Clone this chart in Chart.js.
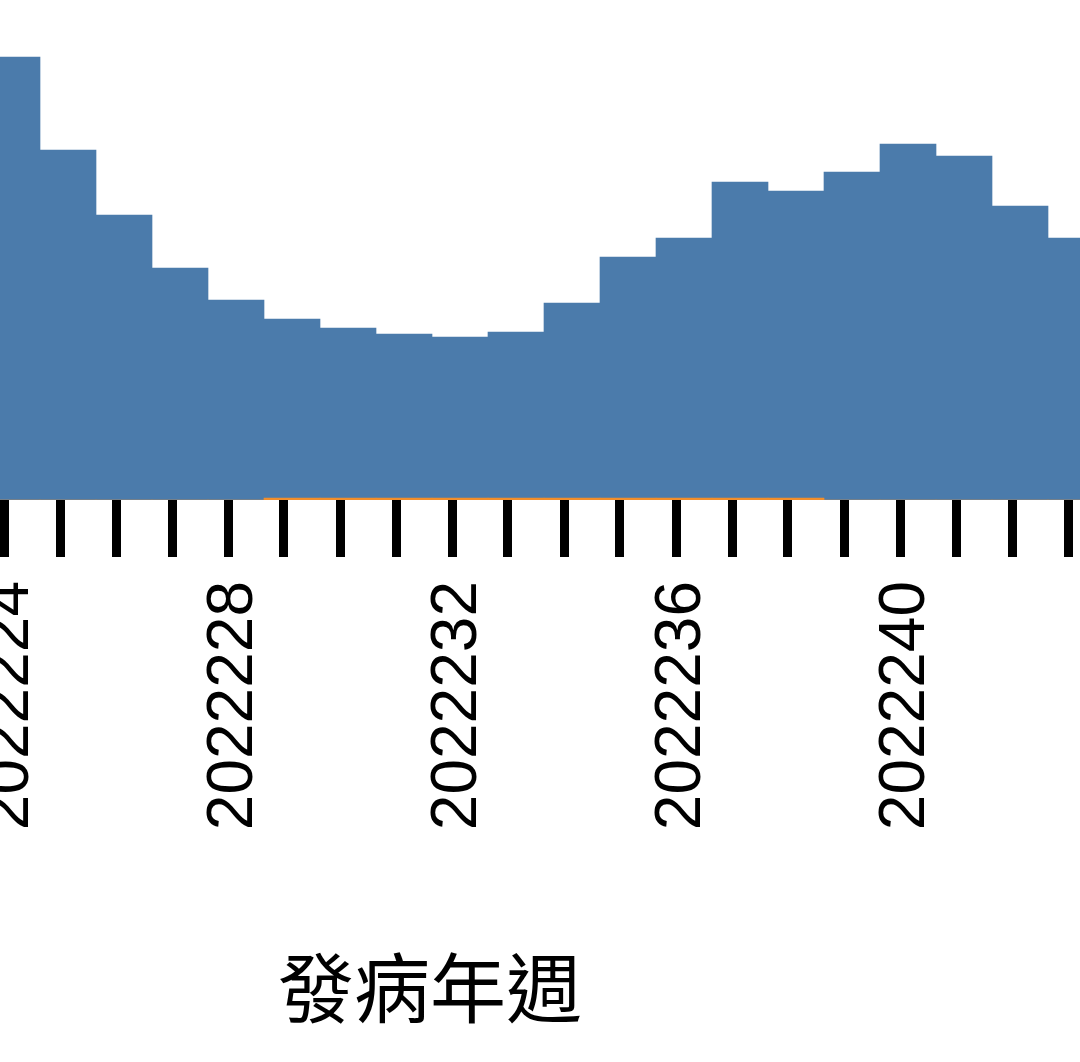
<!DOCTYPE html>
<html>
<head>
<meta charset="utf-8">
<script src="https://cdn.jsdelivr.net/npm/chart.js@4"></script>
<style>
  html, body { margin: 0; padding: 0; background: #fff; overflow: hidden; width: 1080px; height: 1062px; }
  #chart { position: absolute; left: -220px; top: 0; }
</style>
</head>
<body>
<canvas id="chart" width="1300" height="1062"></canvas>
<script>
// onset weeks shown in the crop
const weeks = ['2022224', '2022225', '2022226', '2022227', '2022228', '2022229', '2022230',
  '2022231', '2022232', '2022233', '2022234', '2022235', '2022236', '2022237',
  '2022238', '2022239', '2022240', '2022241', '2022242', '2022243'];
// blue series (case counts)
const cases = [443, 350, 285, 232, 200, 181, 172, 166, 163, 168,
  197, 243, 262, 318, 309, 328, 356, 344, 294, 262];
// orange series (very small, only visible as a thin strip)
const others = [0, 0, 0, 0, 0, 2, 2, 2, 2, 2, 2, 2, 2, 2, 2, 0, 0, 0, 0, 0];
const labelEvery = 4;

function toPoints(values) {
  return values.map((v, i) => ({ x: i, y: v }));
}

new Chart(document.getElementById('chart'), {
  type: 'bar',
  data: {
    datasets: [
      {
        label: 'cases',
        data: toPoints(cases),
        backgroundColor: '#4b7bab',
        borderWidth: 0,
        order: 2
      },
      {
        label: 'others',
        data: toPoints(others),
        backgroundColor: '#f28e2b',
        borderWidth: 0,
        order: 1
      }
    ]
  },
  options: {
    responsive: false,
    animation: false,
    layout: { padding: 0 },
    datasets: {
      bar: { barPercentage: 1, categoryPercentage: 1, grouped: false }
    },
    plugins: {
      legend: { display: false },
      tooltip: { enabled: false }
    },
    scales: {
      x: {
        type: 'linear',
        offset: false,
        min: -232 / 56,
        max: 1068 / 56,
        afterBuildTicks: axis => {
          axis.ticks = weeks.map((w, i) => ({ value: i - 1 / 7 }));
        },
        afterFit: axis => {
          axis.height = 562;
          axis.paddingLeft = 0;
          axis.paddingRight = 0;
        },
        border: { display: false },
        grid: {
          offset: false,
          drawOnChartArea: false,
          drawTicks: true,
          tickLength: 57,
          tickWidth: 9,
          tickColor: '#000'
        },
        ticks: {
          autoSkip: false,
          minRotation: 90,
          maxRotation: 90,
          padding: 24,
          labelOffset: 6,
          color: '#000',
          font: { family: "'Liberation Sans', Arial, sans-serif", size: 64 },
          callback: (value, index) => index % labelEvery === 0 ? weeks[index] : ''
        },
        title: {
          display: true,
          text: '發病年週',
          color: '#000',
          font: { family: "'Noto Sans CJK TC', sans-serif", size: 76 },
          padding: { top: 0, bottom: 28 }
        }
      },
      y: {
        display: false,
        min: 0,
        max: 500
      }
    }
  }
});
</script>
</body>
</html>
